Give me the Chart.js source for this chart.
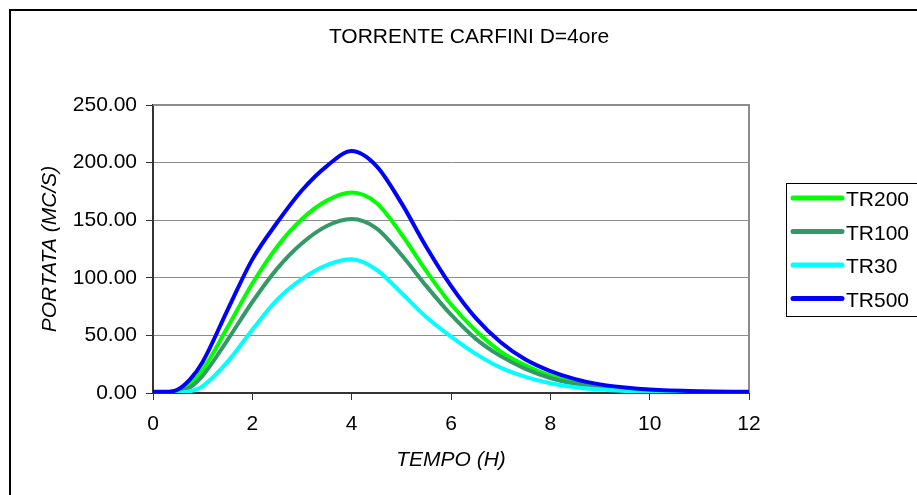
<!DOCTYPE html>
<html>
<head>
<meta charset="utf-8">
<title>Torrente Carfini</title>
<script src="https://cdn.jsdelivr.net/npm/chart.js@4/dist/chart.umd.min.js"></script>
<style>
    html, body { margin: 0; padding: 0; background: #fff; }
    #wrap { width: 917px; height: 495px; }
</style>
</head>
<body>
<div id="wrap"><canvas id="hydro" width="917" height="495"></canvas></div>
<script>
// ore dall'inizio dell'evento
const tempo = [0, 0.25, 0.5, 0.75, 1, 1.5, 2, 2.5, 3, 3.5, 4, 4.5, 5, 5.5, 6, 6.5, 7, 7.5, 8, 8.5, 9, 9.5, 10, 11, 12];

// portate in mc/s per tempo di ritorno
const tr200 = [0.5, 0.5, 1.5, 8, 20, 57, 95, 127, 151, 167, 174, 165, 138, 106, 77, 54, 36, 24, 15, 9, 5.5, 3.5, 2, 1, 0.5];
const tr100 = [0.3, 0.3, 1, 5, 15, 46, 79, 108, 130, 145, 151, 143, 120, 93, 68, 47, 32, 21, 13, 8, 5, 3, 2, 0.8, 0.3];
const tr30  = [0, 0, 0.3, 1.5, 6, 27, 55, 81, 99, 111, 116, 107, 87, 66, 49, 34, 22, 14, 8.5, 5, 3, 1.8, 1, 0.3, 0];
const tr500 = [1, 1, 3, 12, 27, 72, 116, 148, 176, 197, 210, 197, 165, 127, 93, 65, 44, 29, 19, 12, 7.5, 4.8, 3, 1.5, 1];

const titolo = 'TORRENTE CARFINI D=4ore';
const xTicks = [0, 2, 4, 6, 8, 10, 12];
const yTicks = [0, 50, 100, 150, 200, 250];

const FONT = "'Liberation Sans', Arial, sans-serif";

function serie(label, values, color, order) {
    return {
        label: label,
        data: tempo.map((t, i) => ({ x: t, y: values[i] })),
        borderColor: color,
        backgroundColor: color,
        borderWidth: 4,
        pointRadius: 0,
        cubicInterpolationMode: 'monotone',
        fill: false,
        order: order
    };
}

// cornice esterna, titolo, bordo grigio dell'area e legenda con riquadro
const framePlugin = {
    id: 'frame',
    beforeDraw(chart) {
        const ctx = chart.ctx;
        ctx.save();
        ctx.fillStyle = '#fff';
        ctx.fillRect(0, 0, chart.width, chart.height);
        ctx.strokeStyle = '#000';
        ctx.lineWidth = 2;
        ctx.strokeRect(10, 10, 1000, 1000);
        ctx.fillStyle = '#000';
        ctx.font = '21px ' + FONT;
        ctx.textAlign = 'center';
        ctx.textBaseline = 'middle';
        ctx.fillText(titolo, 469, 37);
        ctx.restore();
    },
    beforeDatasetsDraw(chart) {
        const { ctx, chartArea: a } = chart;
        ctx.save();
        ctx.strokeStyle = '#8c8c8c';
        ctx.lineWidth = 2;
        ctx.beginPath();
        ctx.moveTo(a.left, a.top);
        ctx.lineTo(a.right, a.top);
        ctx.lineTo(a.right, a.bottom);
        ctx.stroke();
        ctx.restore();
    },
    afterDraw(chart) {
        const ctx = chart.ctx;
        const sets = chart.data.datasets;
        const boxX = 786, boxY = 183, boxH = 133;
        const rowY = 198, rowStep = 33.5;
        ctx.save();
        ctx.strokeStyle = '#000';
        ctx.lineWidth = 1;
        ctx.strokeRect(boxX + 0.5, boxY + 0.5, 300, boxH);
        ctx.font = '21px ' + FONT;
        ctx.textBaseline = 'middle';
        ctx.textAlign = 'left';
        sets.forEach((ds, i) => {
            const y = rowY + i * rowStep;
            ctx.strokeStyle = ds.borderColor;
            ctx.lineWidth = 5;
            ctx.lineCap = 'round';
            ctx.beginPath();
            ctx.moveTo(793, y);
            ctx.lineTo(842, y);
            ctx.stroke();
            ctx.fillStyle = '#000';
            ctx.fillText(ds.label, 846, y + 2.5);
        });
        ctx.restore();
    }
};

new Chart(document.getElementById('hydro').getContext('2d'), {
    type: 'line',
    data: {
        datasets: [
            serie('TR200', tr200, '#00ff00', 3),
            serie('TR100', tr100, '#339966', 2),
            serie('TR30', tr30, '#00ffff', 1),
            serie('TR500', tr500, '#0000ff', 0)
        ]
    },
    options: {
        responsive: false,
        animation: false,
        layout: { padding: { left: 10, right: 168, top: 105, bottom: 0 } },
        plugins: {
            legend: { display: false },
            tooltip: { enabled: false },
            title: { display: false }
        },
        scales: {
            x: {
                type: 'linear',
                min: 0,
                max: 12,
                afterFit(scale) { scale.height = 102; },
                afterBuildTicks(scale) { scale.ticks = xTicks.map(v => ({ value: v })); },
                ticks: { color: '#000', padding: 12, font: { family: FONT, size: 21 } },
                grid: { drawOnChartArea: false, tickLength: 7, tickColor: '#333', tickWidth: 1 },
                border: { color: '#333', width: 2 },
                title: {
                    display: true,
                    text: 'TEMPO (H)',
                    color: '#000',
                    font: { family: FONT, size: 21, style: 'italic' },
                    padding: { top: 0, bottom: 22 }
                }
            },
            y: {
                min: 0,
                max: 250,
                afterFit(scale) { scale.width = 143; },
                afterBuildTicks(scale) { scale.ticks = yTicks.map(v => ({ value: v })); },
                ticks: {
                    color: '#000',
                    padding: 9,
                    font: { family: FONT, size: 21 },
                    callback: v => v.toFixed(2)
                },
                grid: { color: '#8c8c8c', lineWidth: 1, tickLength: 7, tickColor: '#333' },
                border: { color: '#333', width: 2 },
                title: {
                    display: true,
                    text: 'PORTATA (MC/S)',
                    color: '#000',
                    font: { family: FONT, size: 21, style: 'italic' },
                    padding: { top: 28, bottom: 0 }
                }
            }
        }
    },
    plugins: [framePlugin]
});
</script>
</body>
</html>
